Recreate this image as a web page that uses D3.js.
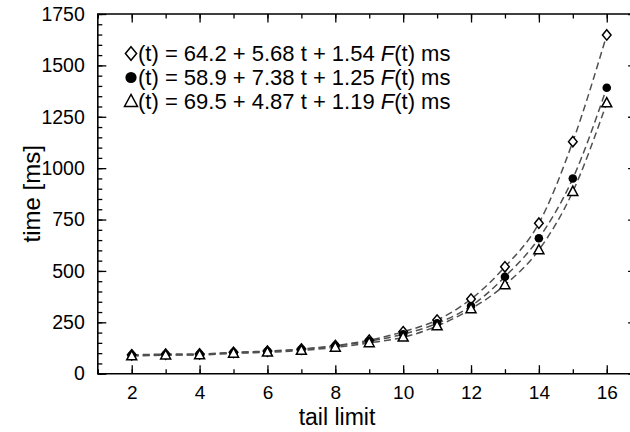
<!DOCTYPE html>
<html>
<head>
<meta charset="utf-8">
<script src="https://cdn.jsdelivr.net/npm/d3@7"></script>
<style>
  body { margin: 0; background: #fff; }
  text { font-family: "Liberation Sans", Arial, sans-serif; fill: #000; }
</style>
</head>
<body>
<div id="chart-area"></div>
<script>
// data
let tailLimit = [2, 3, 4, 5, 6, 7, 8, 9, 10, 11, 12, 13, 14, 15, 16];
let diamondTimes = [92, 95, 96, 104, 110, 120, 137, 163, 204, 261, 363, 520, 732, 1129, 1648];
let circleTimes = [88, 92, 93, 102, 108, 118, 134, 158, 192, 245, 329, 472, 659, 950, 1391];
let triangleTimes = [86, 90, 91, 99, 104, 113, 128, 150, 177, 232, 315, 432, 602, 886, 1317];
let legendLabels = [
  ["(t) = 64.2 + 5.68 t + 1.54 ", "(t) ms"],
  ["(t) = 58.9 + 7.38 t + 1.25 ", "(t) ms"],
  ["(t) = 69.5 + 4.87 t + 1.19 ", "(t) ms"]
];
let yTicks = [0, 250, 500, 750, 1000, 1250, 1500, 1750];
let xTicks = [2, 4, 6, 8, 10, 12, 14, 16];

let W = 630, H = 432;
let margin = {left: 97.8, top: 14, bottom: 58.3};
let height = H - margin.top - margin.bottom;

let svg = d3.select('#chart-area')
            .append('svg')
            .attr('width', W)
            .attr('height', H);

let x = d3.scaleLinear()
        .domain([1, 17])
        .range([margin.left, margin.left + 16 * 33.93]);
let y = d3.scaleLinear()
        .domain([0, 1750])
        .range([margin.top + height, margin.top]);

let right = x(16.88);
let allInts = d3.range(1, 17);
let minorY = d3.range(0, 1751, 50);

// axes: major + minor ticks pointing inside
function tickAxis(axis, vals, size){
  return axis.tickValues(vals).tickSizeInner(-size).tickSizeOuter(0).tickFormat("");
}
let bottomY = y(0), topY = y(1750);

let gx = svg.append("g").attr("transform", "translate(0," + bottomY + ")");
gx.call(tickAxis(d3.axisBottom(x), allInts, 4.5));
gx.append("g").call(d3.axisBottom(x).tickValues(xTicks).tickSizeInner(-8.5).tickSizeOuter(0).tickPadding(12))
  .selectAll("text").attr("font-size", "19px").attr("fill", "#000");

let gxt = svg.append("g").attr("transform", "translate(0," + topY + ")");
gxt.call(tickAxis(d3.axisTop(x), allInts, 4.5));
gxt.append("g").call(tickAxis(d3.axisTop(x), xTicks, 8.5));

let gy = svg.append("g").attr("transform", "translate(" + margin.left + ",0)");
gy.call(tickAxis(d3.axisLeft(y), minorY, 4.5));
gy.append("g").call(d3.axisLeft(y).tickValues(yTicks).tickSizeInner(-8.5).tickSizeOuter(0).tickPadding(13)
      .tickFormat(d3.format("d")))
  .selectAll("text").attr("font-size", "19.5px").attr("fill", "#000");

let gyr = svg.append("g").attr("transform", "translate(" + right + ",0)");
gyr.call(tickAxis(d3.axisRight(y), minorY, 4.5));
gyr.append("g").call(tickAxis(d3.axisRight(y), yTicks, 8.5));

svg.selectAll(".domain").remove();
svg.selectAll(".tick line").attr("stroke", "#000").attr("stroke-width", 1.3);

// frame
svg.append("path")
   .attr("d", "M" + margin.left + "," + topY + "H" + right + "V" + bottomY + "H" + margin.left + "Z")
   .attr("fill", "none").attr("stroke", "#000").attr("stroke-width", 1.6);

// axis titles
svg.append("text")
   .attr("x", 337).attr("y", 425)
   .attr("font-size", "23px").attr("text-anchor", "middle")
   .text("tail limit");
svg.append("text")
   .attr("transform", "translate(40," + ((topY + bottomY) / 2) + ") rotate(-90)")
   .attr("font-size", "24px").attr("text-anchor", "middle")
   .text("time [ms]");

// dashed connecting curves
let series = [
  {vals: diamondTimes, shape: "diamond"},
  {vals: circleTimes, shape: "circle"},
  {vals: triangleTimes, shape: "triangle"}
];
let line = d3.line()
        .x(function(d){ return x(d[0]); })
        .y(function(d){ return y(d[1]); })
        .curve(d3.curveMonotoneX);

series.forEach(function(s){
  svg.append("path")
     .datum(d3.zip(tailLimit, s.vals))
     .attr("d", line)
     .attr("fill", "none")
     .attr("stroke", "#505050")
     .attr("stroke-width", 1.5)
     .attr("stroke-dasharray", "7,4");
});

function markerPath(shape, k){
  if(shape == "diamond") return "M0," + (-5.2*k) + "L" + (4.3*k) + ",0L0," + (5.2*k) + "L" + (-4.3*k) + ",0Z";
  if(shape == "triangle") return "M0," + (-5.4*k) + "L" + (5*k) + "," + (3.8*k) + "L" + (-5*k) + "," + (3.8*k) + "Z";
  return null;
}
function drawMarker(g, shape, k){
  if(shape == "circle"){
    g.append("circle").attr("r", 4.3*k).attr("fill", "#000");
  } else {
    g.append("path").attr("d", markerPath(shape, k))
     .attr("fill", "#fff").attr("stroke", "#000").attr("stroke-width", 1.5);
  }
}

series.forEach(function(s){
  let pts = svg.selectAll(null)
     .data(d3.zip(tailLimit, s.vals))
     .enter()
     .append("g")
     .attr("transform", function(d){ return "translate(" + x(d[0]) + "," + y(d[1]) + ")"; });
  pts.each(function(){ drawMarker(d3.select(this), s.shape, 1); });
});

// legend
series.forEach(function(s, i){
  let ly = 61 + i * 24;
  let g = svg.append("g").attr("transform", "translate(131," + (ly - 7.5) + ")");
  drawMarker(g, s.shape, 1.3);
  let t = svg.append("text").attr("x", 138).attr("y", ly).attr("font-size", "22px");
  t.append("tspan").text(legendLabels[i][0]);
  t.append("tspan").attr("font-style", "italic").text("F");
  t.append("tspan").text(legendLabels[i][1]);
});
</script>
</body>
</html>
